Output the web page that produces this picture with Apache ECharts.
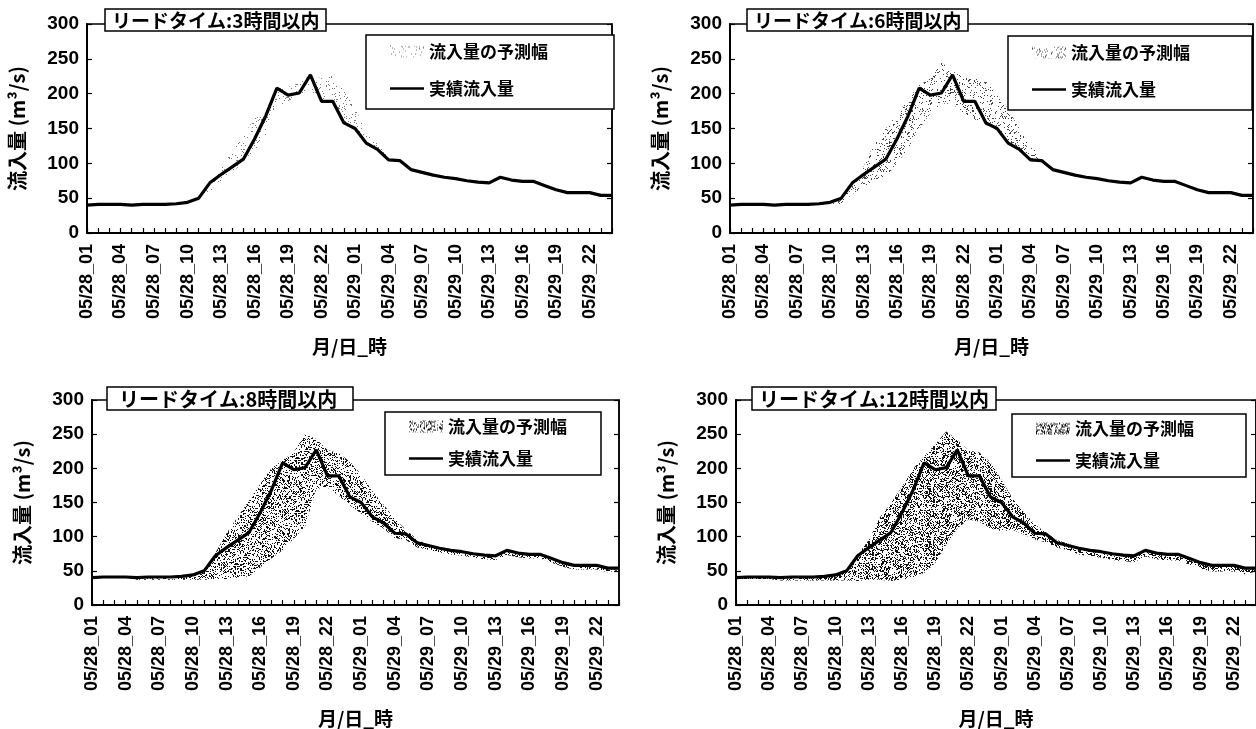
<!DOCTYPE html>
<html><head><meta charset="utf-8">
<script src="https://cdn.jsdelivr.net/npm/echarts@6/dist/echarts.min.js"></script>
<style>html,body{margin:0;padding:0;background:#fff}#c{width:1256px;height:729px}</style>
</head><body><div id="c"></div>
<script>
const categories = [
 '05/28_01','05/28_02','05/28_03','05/28_04','05/28_05','05/28_06','05/28_07','05/28_08','05/28_09','05/28_10','05/28_11','05/28_12',
 '05/28_13','05/28_14','05/28_15','05/28_16','05/28_17','05/28_18','05/28_19','05/28_20','05/28_21','05/28_22','05/28_23','05/28_24',
 '05/29_01','05/29_02','05/29_03','05/29_04','05/29_05','05/29_06','05/29_07','05/29_08','05/29_09','05/29_10','05/29_11','05/29_12',
 '05/29_13','05/29_14','05/29_15','05/29_16','05/29_17','05/29_18','05/29_19','05/29_20','05/29_21','05/29_22','05/29_23','05/29_24'];
const actual = [40,41,41,41,40,41,41,41,42,44,50,72,84,95,106,135,168,208,198,201,227,189,189,158,150,129,120,105,104,91,87,83,80,78,75,73,72,80,76,74,74,68,62,58,58,58,54,54];

const lower3 = [40,41,41,41,40,41,41,41,42,44,46,58,74,88,100,118,140,185,185,198,205,189,189,158,150,129,120,105,104,91,87,83,80,78,75,73,72,80,76,74,74,68,62,58,58,58,54,54];
const upper3 = [40,41,41,41,40,41,41,41,42,44,50,72,95,118,140,165,180,208,210,215,227,222,226,205,178,148,128,108,104,91,87,83,80,78,75,73,72,80,76,74,74,68,62,58,58,58,54,54];
const lower6 = [40,41,41,41,40,41,41,41,40,40,42,56,66,75,80,100,120,149,172,186,185,172,163,155,148,127,118,104,102,91,87,83,80,78,75,73,72,80,76,74,74,68,62,58,58,58,54,54];
const upper6 = [40,41,41,41,40,41,41,41,42,44,50,72,95,130,150,170,192,212,222,245,232,224,224,218,200,178,150,125,110,91,87,83,80,78,75,73,72,80,76,74,74,68,62,58,58,58,54,54];
const lower8 = [40,41,41,41,37,37,37,37,37,37,37,38,38,40,42,55,68,80,97,115,170,172,160,146,134,122,112,98,95,84,81,77,74,72,69,67,66,73,70,68,68,62,56,52,52,52,48,51];
const upper8 = [40,41,41,41,40,41,41,41,42,44,52,76,105,129,153,177,200,212,224,250,243,227,222,210,191,167,147,126,110,96,87,83,80,78,75,73,72,80,76,74,74,68,62,58,58,58,54,54];
const lower12 = [38,38,38,38,36,36,36,36,36,36,36,35,37,37,35,37,40,47,61,88,112,125,122,112,108,110,103,96,92,84,80,74,71,69,66,64,63,71,67,65,65,59,53,49,49,49,45,49];
const upper12 = [40,41,41,41,40,41,41,41,42,44,50,74,95,128,149,173,199,218,235,254,242,226,223,209,183,156,136,118,106,95,90,83,80,78,75,73,72,80,76,74,74,68,62,58,58,58,54,54];

const panelTitles = ['リードタイム:3時間以内','リードタイム:6時間以内','リードタイム:8時間以内','リードタイム:12時間以内'];
const yTicks = [0, 300, 50];

const NUM = '"Liberation Sans", Arial, sans-serif';
const JP = '"Noto Sans CJK JP", "Noto Sans", sans-serif';

function hash(x, y, s) {
  let n = (Math.imul(x, 374761393) + Math.imul(y, 668265263) + Math.imul(s, 1442695041)) | 0;
  n = Math.imul(n ^ (n >>> 13), 1274126177);
  n = n ^ (n >>> 16);
  return (n >>> 0) / 4294967296;
}
function stipple(density, color, salt) {
  const c = document.createElement('canvas');
  c.width = 61; c.height = 53;
  const ctx = c.getContext('2d');
  ctx.fillStyle = color;
  for (let y = 0; y < c.height; y++) for (let x = 0; x < c.width; x++) {
    if (hash(x, y, salt) < density) ctx.fillRect(x, y, 1, 1);
  }
  return { image: c, repeat: 'repeat' };
}

const panels = [
  { lower: lower3, upper: upper3, pat: stipple(0.08, '#777', 3),
    grid: { left: 87, top: 24, width: 525, height: 209 },
    title: { left: 105, top: 9, size: 19, pad: [2, 7, 1, 7] }, legend: { left: 366, top: 35, padR: 66, pad: [8, 12], gap: 20 } },
  { lower: lower6, upper: upper6, pat: stipple(0.13, '#444', 6),
    grid: { left: 730, top: 24, width: 523, height: 209 },
    title: { left: 747, top: 9, size: 19, pad: [2, 7, 1, 7] }, legend: { left: 1008, top: 36, padR: 62, pad: [8, 12], gap: 20 } },
  { lower: lower8, upper: upper8, pat: stipple(0.30, '#111', 8),
    grid: { left: 92, top: 400, width: 527, height: 210 },
    title: { left: 107, top: 387, size: 20, pad: [2, 16, 1, 12] }, legend: { left: 385, top: 412, padR: 34, pad: [6, 8], gap: 15 } },
  { lower: lower12, upper: upper12, pat: stipple(0.34, '#111', 12),
    grid: { left: 736, top: 400, width: 527, height: 210 },
    title: { left: 752, top: 387, size: 20, pad: [2, 7, 1, 7] }, legend: { left: 1012, top: 414, padR: 52, pad: [6, 8], gap: 15 } }
];

const option = {
  animation: false,
  backgroundColor: '#fff',
  textStyle: { fontFamily: JP, color: '#000' },
  title: [], legend: [], grid: [], xAxis: [], yAxis: [], series: []
};

panels.forEach((p, k) => {
  option.grid.push(Object.assign({ show: true, borderColor: '#000', borderWidth: 1.5, backgroundColor: 'transparent' }, p.grid));
  option.title.push({
    text: panelTitles[k], left: p.title.left, top: p.title.top,
    backgroundColor: '#fff', borderColor: '#000', borderWidth: 1.5, padding: p.title.pad,
    textStyle: { fontFamily: JP, fontSize: p.title.size, fontWeight: 'bold', color: '#000' }, z: 10
  });
  option.legend.push({
    orient: 'vertical', left: p.legend.left, top: p.legend.top,
    backgroundColor: '#fff', borderColor: '#000', borderWidth: 1.5,
    padding: [p.legend.pad[0], p.legend.padR, p.legend.pad[1], 24], itemGap: p.legend.gap, itemWidth: 34, itemHeight: 12,
    textStyle: { fontFamily: JP, fontSize: 17, fontWeight: 'bold', color: '#000' },
    selectedMode: false, z: 10,
    data: [
      { name: '流入量の予測幅', icon: 'rect', itemStyle: { color: p.pat, borderWidth: 0 } },
      { name: '実績流入量', icon: 'path://M0,0H40V3H0Z', itemStyle: { color: '#000', borderWidth: 0 } }
    ]
  });
  option.xAxis.push({
    type: 'category', gridIndex: k, data: categories, boundaryGap: false,
    axisLine: { lineStyle: { color: '#000', width: 2 } },
    axisTick: { inside: true, length: 5, interval: 0, lineStyle: { color: '#000', width: 1.2 } },
    axisLabel: { interval: 2, rotate: 90, margin: 11, fontFamily: NUM, fontSize: 18, fontWeight: 'bold', color: '#000' },
    splitLine: { show: false },
    name: '月/日_時', nameLocation: 'middle', nameGap: 104,
    nameTextStyle: { fontFamily: JP, fontSize: 19, fontWeight: 'bold', color: '#000' }
  });
  option.yAxis.push({
    type: 'value', gridIndex: k, min: yTicks[0], max: yTicks[1], interval: yTicks[2], position: 'left',
    axisLine: { show: true, lineStyle: { color: '#000', width: 2 } },
    axisTick: { show: true, inside: true, length: 5, lineStyle: { color: '#000', width: 1.2 } },
    axisLabel: { margin: 8, fontFamily: NUM, fontSize: 19, fontWeight: 'bold', color: '#000' },
    splitLine: { show: false },
    name: '流入量 (m³/s)', nameLocation: 'middle', nameGap: 60, nameRotate: 90,
    nameTextStyle: { fontFamily: JP, fontSize: 20, fontWeight: 'bold', color: '#000' }
  });
  option.yAxis.push({
    type: 'value', gridIndex: k, min: yTicks[0], max: yTicks[1], interval: yTicks[2], position: 'right',
    axisLine: { show: true, lineStyle: { color: '#000', width: 1.5 } },
    axisTick: { show: true, inside: true, length: 5, lineStyle: { color: '#000', width: 1.2 } },
    axisLabel: { show: false }, splitLine: { show: false }
  });
  const range = p.upper.map((u, i) => u - p.lower[i]);
  option.series.push({
    name: '下限', type: 'line', xAxisIndex: k, yAxisIndex: 2 * k, stack: 'band' + k,
    data: p.lower, symbol: 'none', lineStyle: { opacity: 0, width: 0 }, silent: true, z: 1
  });
  option.series.push({
    name: '流入量の予測幅', type: 'line', xAxisIndex: k, yAxisIndex: 2 * k, stack: 'band' + k,
    data: range, symbol: 'none', lineStyle: { opacity: 0, width: 0 }, itemStyle: { color: '#555' },
    areaStyle: { color: p.pat, opacity: 1 }, silent: true, z: 2
  });
  option.series.push({
    name: '実績流入量', type: 'line', xAxisIndex: k, yAxisIndex: 2 * k,
    data: actual, symbol: 'none', lineStyle: { color: '#000', width: 3.2 }, itemStyle: { color: '#000' }, z: 5
  });
});

const chart = echarts.init(document.getElementById('c'), null, { renderer: 'canvas' });
chart.setOption(option);
</script></body></html>
